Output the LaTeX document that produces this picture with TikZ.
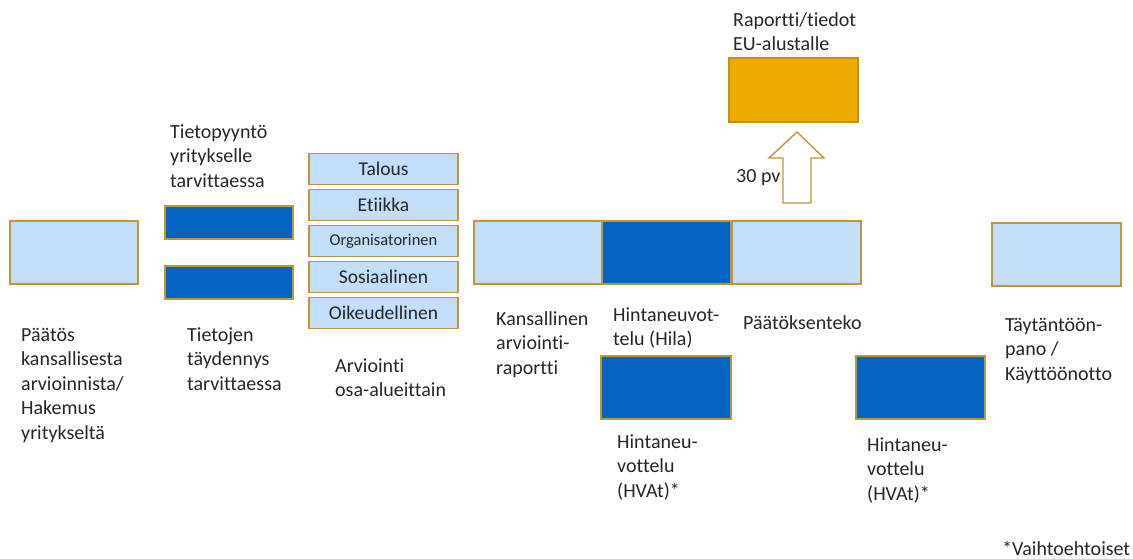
\documentclass[tikz,border=0pt]{standalone}
\usepackage{fontspec}
\setmainfont{Carlito}[Ligatures={NoCommon}]
\definecolor{lblue}{RGB}{194,222,248}
\definecolor{dblue}{RGB}{5,99,193}
\definecolor{gold}{RGB}{191,150,60}
\definecolor{orng}{RGB}{237,170,0}
\definecolor{txtc}{RGB}{38,38,38}
\newcommand{\fls}{\rule{0pt}{15pt}}
\begin{document}
\begin{tikzpicture}[x=1pt,y=-1pt,
  box/.style={draw=gold,line width=1.4pt,minimum width=128pt,minimum height=63pt,inner sep=0pt},
  lbox/.style={box,fill=lblue},
  dbox/.style={box,fill=dblue},
  obox/.style={box,fill=orng,draw=orng!85!black},
  sbox/.style={box,fill=lblue,minimum width=149pt,minimum height=31pt,text=txtc,font=\fontsize{19.5}{22}\selectfont},
  txt/.style={anchor=north west,inner sep=0pt,align=left,text=txtc,font=\fontsize{20}{24.5}\selectfont}]
\useasboundingbox (0,0) rectangle (1133,559);
% boxes
\node[lbox] (a) at (74,252.5) {};
\node[dbox,minimum height=33pt] (d1) at (229,222.5) {};
\node[dbox,minimum height=33pt] (d2) at (229,282.5) {};
\node[sbox] (s1) at (383.5,169) {Talous};
\node[sbox] (s2) at (383.5,205) {Etiikka};
\node[sbox,font=\fontsize{16.5}{20}\selectfont] (s3) at (383.5,241) {Organisatorinen};
\node[sbox] (s4) at (383.5,277) {Sosiaalinen};
\node[sbox] (s5) at (383.5,313) {Oikeudellinen};
\node[lbox] (m1) at (538,252.5) {};
\node[dbox,minimum width=129pt] (m2) at (666.5,252.5) {};
\node[lbox,minimum width=129pt] (m3) at (796.5,252.5) {};
\node[dbox,minimum width=130pt] (h1) at (666,387.5) {};
\node[dbox,minimum width=129pt] (h2) at (920.5,387.5) {};
\node[lbox,minimum width=129pt] (r) at (1056.5,254.5) {};
\node[obox,minimum width=129pt,minimum height=64pt] (o) at (793.5,90) {};
% block arrow
\draw[draw=gold,fill=white,line width=1.4pt,line join=miter]
  (783,203) -- (811,203) -- (811,158) -- (824,158) -- (797,132) -- (769,158) -- (783,158) -- cycle;
% texts
\node[txt] (t1) at (21,326) {\fls Päätös\\kansallisesta\\arvioinnista/\\Hakemus\\yritykseltä};
\node[txt] (t2) at (187,326) {\fls Tietojen\\täydennys\\tarvittaessa};
\node[txt] (t3) at (170,123) {\fls Tietopyyntö\\yritykselle\\tarvittaessa};
\node[txt] (t4) at (335,357) {\fls Arviointi\\osa-alueittain};
\node[txt] (t5) at (496,310) {\fls Kansallinen\\arviointi-\\raportti};
\node[txt] (t6) at (613,306) {\fls Hintaneuvot-\\telu (Hila)};
\node[txt] (t7) at (743,314) {\fls Päätöksenteko};
\node[txt] (t8) at (617,433) {\fls Hintaneu-\\vottelu\\(HVAt)*};
\node[txt] (t9) at (867,436) {\fls Hintaneu-\\vottelu\\(HVAt)*};
\node[txt] (t10) at (1005,316) {\fls Täytäntöön-\\pano /\\Käyttöönotto};
\node[txt] (t11) at (1002,540) {\fls *Vaihtoehtoiset};
\node[txt] (t12) at (733,11) {\fls Raportti/tiedot\\EU-alustalle};
\node[txt] (t13) at (736,167) {\fls 30 pv};
\end{tikzpicture}
\end{document}
